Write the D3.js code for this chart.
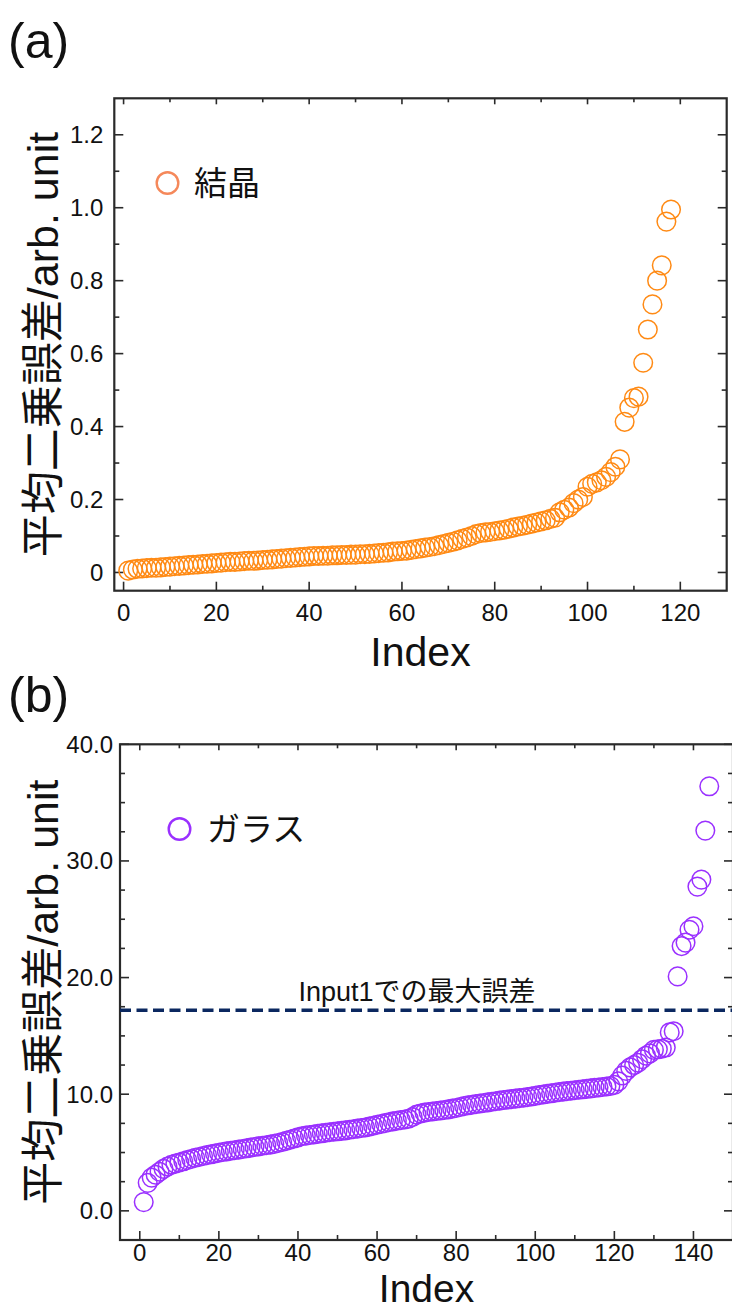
<!DOCTYPE html>
<html>
<head>
<meta charset="utf-8">
<script src="https://cdn.jsdelivr.net/npm/d3@7"></script>
<style>
  html, body { margin: 0; padding: 0; background: #fff; }
  svg { display: block; }
  text { font-family: "Liberation Sans", Arial, "Noto Sans CJK JP", sans-serif; fill: #111; }
</style>
</head>
<body>
<svg id="chart" width="732" height="1311"></svg>
<script>
// ---- data ----
// (a) crystal: mean squared error per sample, sorted ascending
const crystalIndex = d3.range(1, 119);
const crystalValues = [
  0.005, 0.008, 0.010, 0.011, 0.012, 0.013, 0.013, 0.014, 0.015, 0.016,
  0.017, 0.018, 0.019, 0.020, 0.021, 0.022, 0.023, 0.024, 0.025, 0.026,
  0.027, 0.028, 0.029, 0.029, 0.030, 0.031, 0.032, 0.032, 0.033, 0.034,
  0.035, 0.036, 0.037, 0.038, 0.039, 0.040, 0.041, 0.042, 0.043, 0.044,
  0.045, 0.045, 0.046, 0.046, 0.047, 0.047, 0.048, 0.048, 0.049, 0.049,
  0.050, 0.050, 0.051, 0.052, 0.053, 0.054, 0.055, 0.057, 0.058, 0.059,
  0.060, 0.062, 0.064, 0.066, 0.068, 0.070, 0.072, 0.075, 0.078, 0.081,
  0.084, 0.088, 0.092, 0.096, 0.100, 0.105, 0.108, 0.110, 0.111, 0.113,
  0.115, 0.117, 0.120, 0.123, 0.126, 0.128, 0.131, 0.134, 0.137, 0.140,
  0.143, 0.147, 0.150, 0.165, 0.172, 0.178, 0.190, 0.200, 0.207, 0.235,
  0.243, 0.247, 0.253, 0.262, 0.275, 0.290, 0.310, 0.413, 0.452, 0.478,
  0.482, 0.575, 0.666, 0.735, 0.800, 0.842, 0.962, 0.995
];

// (b) glass: mean squared error per sample, sorted ascending
const glassIndex = d3.range(1, 145);
const glassValues = [
  0.75, 2.40, 2.85, 3.10, 3.35, 3.60, 3.80, 3.95, 4.05, 4.15,
  4.25, 4.35, 4.45, 4.55, 4.62, 4.70, 4.78, 4.85, 4.92, 4.98,
  5.04, 5.10, 5.15, 5.20, 5.25, 5.30, 5.36, 5.42, 5.48, 5.53,
  5.58, 5.63, 5.68, 5.74, 5.82, 5.90, 6.00, 6.10, 6.20, 6.30,
  6.40, 6.45, 6.50, 6.55, 6.60, 6.65, 6.70, 6.74, 6.78, 6.82,
  6.86, 6.90, 6.95, 7.00, 7.05, 7.10, 7.15, 7.22, 7.30, 7.38,
  7.45, 7.52, 7.60, 7.67, 7.73, 7.78, 7.83, 7.90, 8.05, 8.25,
  8.35, 8.42, 8.48, 8.52, 8.56, 8.60, 8.65, 8.70, 8.76, 8.82,
  8.90, 8.98, 9.05, 9.10, 9.15, 9.20, 9.25, 9.30, 9.35, 9.40,
  9.45, 9.50, 9.54, 9.58, 9.62, 9.66, 9.70, 9.75, 9.80, 9.86,
  9.92, 9.98, 10.03, 10.08, 10.13, 10.18, 10.22, 10.26, 10.30, 10.34,
  10.38, 10.42, 10.46, 10.50, 10.54, 10.58, 10.62, 10.66, 10.70, 10.80,
  11.10, 11.60, 12.00, 12.30, 12.50, 12.70, 13.00, 13.30, 13.50, 13.80,
  13.85, 13.90, 14.00, 15.30, 15.40, 20.10, 22.70, 23.00, 24.10, 24.40,
  27.80, 28.40, 32.60, 36.40
];

// reference level: largest error obtained with Input1
const input1MaxError = 17.2;

// axis ticks
const xMajorA = [0, 20, 40, 60, 80, 100, 120];
const xMinorA = [10, 30, 50, 70, 90, 110];
const yMajorA = [0, 0.2, 0.4, 0.6, 0.8, 1.0, 1.2];
const yMinorA = [0.1, 0.3, 0.5, 0.7, 0.9, 1.1];
const yLabelsA = ["0", "0.2", "0.4", "0.6", "0.8", "1.0", "1.2"];

const xMajorB = [0, 20, 40, 60, 80, 100, 120, 140];
const xMinorB = [10, 30, 50, 70, 90, 110, 130];
const yMajorB = [0, 10, 20, 30, 40];
const yMinorB = [2.5, 5, 7.5, 12.5, 15, 17.5, 22.5, 25, 27.5, 32.5, 35, 37.5];
const yLabelsB = ["0.0", "10.0", "20.0", "30.0", "40.0"];

const yTitle = "平均二乗誤差/arb. unit";
const xTitle = "Index";

// ---- drawing ----
const svg = d3.select("#chart");
const AXIS = "#2a2a2a";

function panel(cfg) {
  const g = svg.append("g");
  const x = d3.scaleLinear().domain(cfg.xDomain).range([cfg.left, cfg.right]);
  const y = d3.scaleLinear().domain(cfg.yDomain).range([cfg.bottom, cfg.top]);

  // ticks (all inward)
  const tickGroup = g.append("g").attr("stroke", AXIS).attr("stroke-width", 1.6);
  const tk = (vals, len, side) => {
    vals.forEach(v => {
      if (side === "bottom") tickGroup.append("line").attr("x1", x(v)).attr("x2", x(v)).attr("y1", cfg.bottom).attr("y2", cfg.bottom - len);
      if (side === "top") tickGroup.append("line").attr("x1", x(v)).attr("x2", x(v)).attr("y1", cfg.top).attr("y2", cfg.top + len);
      if (side === "left") tickGroup.append("line").attr("y1", y(v)).attr("y2", y(v)).attr("x1", cfg.left).attr("x2", cfg.left + len);
      if (side === "right") tickGroup.append("line").attr("y1", y(v)).attr("y2", y(v)).attr("x1", cfg.right).attr("x2", cfg.right - len);
    });
  };
  tk(cfg.xMajor, 9, "bottom"); tk(cfg.xMinor, 5, "bottom");
  tk(cfg.xMajor, 6, "top");    tk(cfg.xMinor, 4, "top");
  tk(cfg.yMajor, 9, "left");   tk(cfg.yMinor, 5, "left");
  tk(cfg.yMajor, 9, "right");  tk(cfg.yMinor, 5, "right");

  // frame
  g.append("rect")
    .attr("x", cfg.left).attr("y", cfg.top)
    .attr("width", cfg.right - cfg.left).attr("height", cfg.bottom - cfg.top)
    .attr("fill", "none").attr("stroke", AXIS).attr("stroke-width", 2.2);

  // tick labels
  g.append("g").selectAll("text").data(cfg.xMajor).join("text")
    .attr("x", d => x(d)).attr("y", cfg.xLabelY)
    .attr("text-anchor", "middle").attr("font-size", 24)
    .text(d => d);
  g.append("g").selectAll("text").data(cfg.yMajor).join("text")
    .attr("x", cfg.left - cfg.yLabelGap).attr("y", d => y(d))
    .attr("dy", "0.35em")
    .attr("text-anchor", "end").attr("font-size", 24)
    .text((d, i) => cfg.yLabels[i]);

  // axis titles
  g.append("text")
    .attr("x", (cfg.left + cfg.right) / 2).attr("y", cfg.xTitleY)
    .attr("text-anchor", "middle").attr("font-size", cfg.xTitleSize)
    .text(xTitle);
  g.append("text")
    .attr("transform", `translate(${cfg.yTitleX},${(cfg.top + cfg.bottom) / 2}) rotate(-90)`)
    .attr("text-anchor", "middle").attr("font-size", 43)
    .text(yTitle);

  // panel letter
  g.append("text")
    .attr("x", 8).attr("y", cfg.letterY)
    .attr("font-size", 50)
    .text(cfg.letter);

  return { g, x, y };
}

// ---- panel (a) ----
const A = panel({
  left: 114.3, right: 726.7, top: 98.3, bottom: 590.7,
  xDomain: [-2, 130], yDomain: [-0.05, 1.3],
  xMajor: xMajorA, xMinor: xMinorA, yMajor: yMajorA, yMinor: yMinorA, yLabels: yLabelsA,
  xLabelY: 621, yLabelGap: 11, xTitleY: 666, xTitleSize: 41, yTitleX: 58, letter: "(a)", letterY: 58
});
A.g.append("g").selectAll("circle")
  .data(crystalValues).join("circle")
  .attr("cx", (d, i) => A.x(crystalIndex[i]))
  .attr("cy", d => A.y(d))
  .attr("r", 9.3)
  .attr("fill", "none")
  .attr("stroke", "#ff8a14")
  .attr("stroke-width", 1.5);

// legend (a)
A.g.append("circle").attr("cx", 167.5).attr("cy", 183).attr("r", 10.8)
  .attr("fill", "none").attr("stroke", "#f5885a").attr("stroke-width", 2.4);
A.g.append("text").attr("x", 194).attr("y", 183).attr("dy", "0.36em")
  .attr("font-size", 33).text("結晶");

// ---- panel (b) ----
const B = panel({
  left: 120, right: 733, top: 744.3, bottom: 1240,
  xDomain: [-5, 150], yDomain: [-2.5, 40],
  xMajor: xMajorB, xMinor: xMinorB, yMajor: yMajorB, yMinor: yMinorB, yLabels: yLabelsB,
  xLabelY: 1261, yLabelGap: 7, xTitleY: 1302, xTitleSize: 39, yTitleX: 58, letter: "(b)", letterY: 712
});

// Input1 maximum-error reference line
B.g.append("line")
  .attr("x1", B.x(-5)).attr("x2", B.x(150))
  .attr("y1", B.y(input1MaxError)).attr("y2", B.y(input1MaxError))
  .attr("stroke", "#0b2860").attr("stroke-width", 3.4)
  .attr("stroke-dasharray", "11,5.5");
B.g.append("text")
  .attr("x", 417).attr("y", B.y(input1MaxError) - 9)
  .attr("text-anchor", "middle").attr("font-size", 27)
  .text("Input1での最大誤差");

B.g.append("g").selectAll("circle")
  .data(glassValues).join("circle")
  .attr("cx", (d, i) => B.x(glassIndex[i]))
  .attr("cy", d => B.y(d))
  .attr("r", 9.3)
  .attr("fill", "none")
  .attr("stroke", "#9a30ff")
  .attr("stroke-width", 1.5);

// legend (b)
B.g.append("circle").attr("cx", 179.5).attr("cy", 829).attr("r", 10.8)
  .attr("fill", "none").attr("stroke", "#9a30ff").attr("stroke-width", 2.4);
B.g.append("text").attr("x", 207).attr("y", 829).attr("dy", "0.36em")
  .attr("font-size", 33).text("ガラス");
</script>
</body>
</html>
